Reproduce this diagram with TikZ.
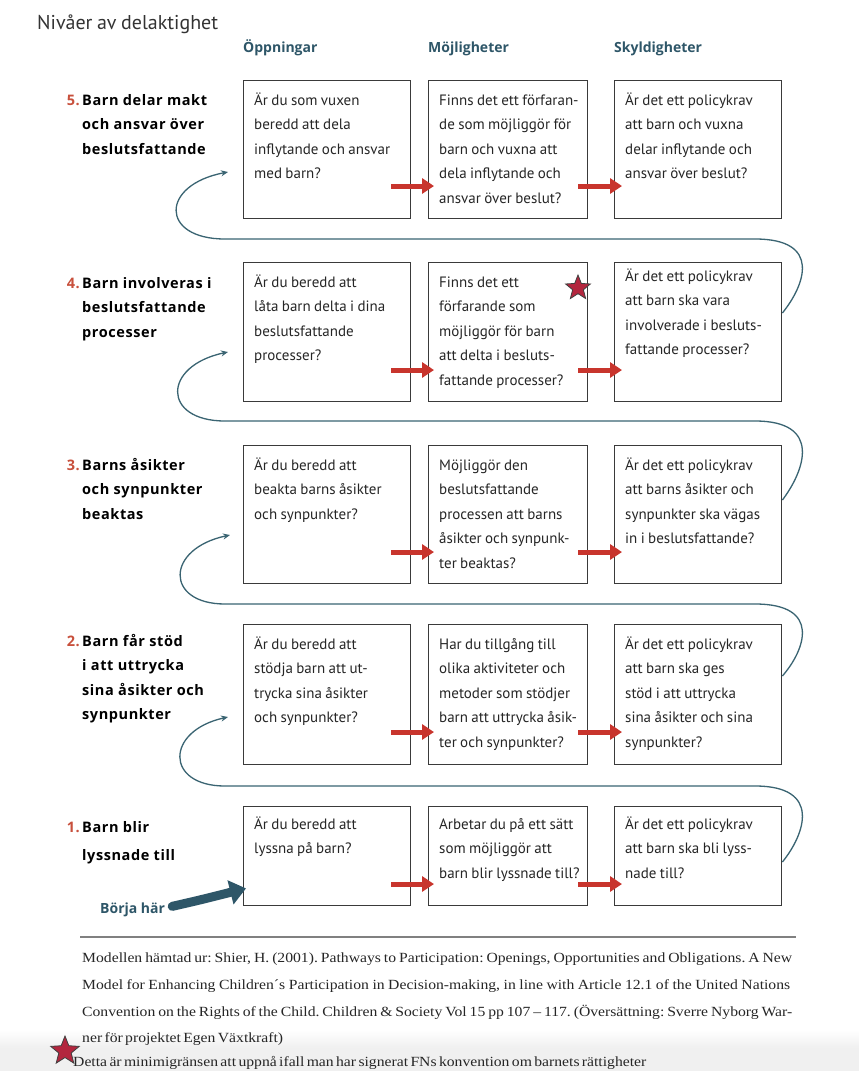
\documentclass[tikz,border=0pt]{standalone}
\usepackage{fontspec}
\setmainfont{PT Sans}[WordSpace=0.85]
\newfontfamily\lblfont{Open Sans}[LetterSpace=4]
\newfontfamily\hdrfont{Open Sans}
\newfontfamily\footfont{Liberation Serif}[FakeStretch=1.12, WordSpace=0.6]
\usetikzlibrary{arrows.meta,calc,shapes.geometric}
\definecolor{hdrteal}{HTML}{2E5668}
\definecolor{linkteal}{HTML}{3A6472}
\definecolor{numred}{HTML}{C8503C}
\definecolor{arrred}{HTML}{C8352D}
\definecolor{boxgray}{HTML}{3A3A3A}
\definecolor{starred}{HTML}{B3263E}
\definecolor{titlegray}{HTML}{333333}
\frenchspacing
\begin{document}
\begin{tikzpicture}[x=1pt,y=-1pt,
  box/.style={draw=boxgray, line width=1.4pt, inner sep=0pt, anchor=north west},
  boxtext/.style={anchor=north west, inner sep=0pt, align=left, text=black!85,
    font=\fontsize{15}{24.5}\selectfont},
  lbl/.style={anchor=north west, inner sep=0pt, align=left, text=black,
    font=\lblfont\bfseries\fontsize{14.5}{24.5}\selectfont},
  hdr/.style={anchor=base west, inner sep=0pt, text=hdrteal,
    font=\hdrfont\bfseries\fontsize{14}{16}\selectfont},
  redarr/.style={draw=arrred, line width=5pt, -{Triangle[width=15pt,length=12pt]}},
  link/.style={draw=linkteal, line width=1.3pt, -{Stealth[length=7pt,width=6pt]}},
  starmark/.style={star, star points=5, star point ratio=2.3, fill=starred,
    draw=black!75, line width=0.8pt, inner sep=0pt},
  foot/.style={anchor=base west, inner sep=0pt, text=black!85,
    font=\footfont\fontsize{14}{16}\selectfont}
]
\useasboundingbox (0,0) rectangle (859,1071);
\fill[white] (0,0) rectangle (859,1071);
\shade[top color=white, bottom color=black!6] (0,1030) rectangle (859,1048);
\fill[black!6] (0,1048) rectangle (859,1071);

% title and headers
\node[anchor=base west, inner sep=0pt, text=titlegray, font=\fontsize{20}{22}\selectfont] (title) at (37,29) {Nivåer av delaktighet};
\node[hdr] (h1) at (243,52) {Öppningar};
\node[hdr] (h2) at (428,52) {Möjligheter};
\node[hdr] (h3) at (614,52) {Skyldigheter};

% boxes
\foreach \r/\y/\h in {5/80/138, 4/262/139, 3/445/138, 2/624/140, 1/806/99}{
  \node[box, minimum width=167pt, minimum height=\h pt] (r\r c1) at (243,\y) {};
  \node[box, minimum width=159pt, minimum height=\h pt] (r\r c2) at (428,\y) {};
  \node[box, minimum width=167pt, minimum height=\h pt] (r\r c3) at (614,\y) {};
}

% row labels
\node[lbl] (l5) at (82,88) {\llap{\textcolor{numred}{5.}\,}\strut Barn delar makt\\och ansvar över\\beslutsfattande};
\node[lbl] (l4) at (82,271) {\llap{\textcolor{numred}{4.}\,}\strut Barn involveras i\\beslutsfattande\\processer};
\node[lbl] (l3) at (82,453) {\llap{\textcolor{numred}{3.}\,}\strut Barns åsikter\\och synpunkter\\beaktas};
\node[lbl] (l2) at (82,629) {\llap{\textcolor{numred}{2.}\,}\strut Barn får stöd\\i att uttrycka\\sina åsikter och\\synpunkter};
\node[lbl, font=\lblfont\bfseries\fontsize{14.5}{28}\selectfont] (l1) at (82,813) {\llap{\textcolor{numred}{1.}\,}\strut Barn blir\\lyssnade till};

% box texts
\node[boxtext] (t51) at ($(r5c1.north west)+(11,8)$) {\strut Är du som vuxen\\beredd att dela\\inflytande och ansvar\\med barn?};
\node[boxtext] (t52) at ($(r5c2.north west)+(11,8)$) {\strut Finns det ett förfaran-\\de som möjliggör för\\barn och vuxna att\\dela inflytande och\\ansvar över beslut?};
\node[boxtext] (t53) at ($(r5c3.north west)+(11,8)$) {\strut Är det ett policykrav\\att barn och vuxna\\delar inflytande och\\ansvar över beslut?};

\node[boxtext] (t41) at ($(r4c1.north west)+(11,8)$) {\strut Är du beredd att\\låta barn delta i dina\\beslutsfattande\\processer?};
\node[boxtext] (t42) at ($(r4c2.north west)+(11,8)$) {\strut Finns det ett\\förfarande som\\möjliggör för barn\\att delta i besluts-\\fattande processer?};
\node[boxtext] (t43) at ($(r4c3.north west)+(11,2)$) {\strut Är det ett policykrav\\att barn ska vara\\involverade i besluts-\\fattande processer?};

\node[boxtext] (t31) at ($(r3c1.north west)+(11,8)$) {\strut Är du beredd att\\beakta barns åsikter\\och synpunkter?};
\node[boxtext] (t32) at ($(r3c2.north west)+(11,8)$) {\strut Möjliggör den\\beslutsfattande\\processen att barns\\åsikter och synpunk-\\ter beaktas?};
\node[boxtext] (t33) at ($(r3c3.north west)+(11,8)$) {\strut Är det ett policykrav\\att barns åsikter och\\synpunkter ska vägas\\in i beslutsfattande?};

\node[boxtext] (t21) at ($(r2c1.north west)+(11,8)$) {\strut Är du beredd att\\stödja barn att ut-\\trycka sina åsikter\\och synpunkter?};
\node[boxtext] (t22) at ($(r2c2.north west)+(11,8)$) {\strut Har du tillgång till\\olika aktiviteter och\\metoder som stödjer\\barn att uttrycka åsik-\\ter och synpunkter?};
\node[boxtext] (t23) at ($(r2c3.north west)+(11,8)$) {\strut Är det ett policykrav\\att barn ska ges\\stöd i att uttrycka\\sina åsikter och sina\\synpunkter?};

\node[boxtext] (t11) at ($(r1c1.north west)+(11,6)$) {\strut Är du beredd att\\lyssna på barn?};
\node[boxtext] (t12) at ($(r1c2.north west)+(11,6)$) {\strut Arbetar du på ett sätt\\som möjliggör att\\barn blir lyssnade till?};
\node[boxtext] (t13) at ($(r1c3.north west)+(11,6)$) {\strut Är det ett policykrav\\att barn ska bli lyss-\\nade till?};

% red arrows
\foreach \r/\d in {5/106, 4/108, 3/107, 2/108, 1/78}{
  \draw[redarr] ($(r\r c1.north east)+(-20,\d)$) -- ($(r\r c2.north west)+(6,\d)$);
  \draw[redarr] ($(r\r c2.north east)+(-10,\d)$) -- ($(r\r c3.north west)+(8,\d)$);
}

% teal connectors between levels
\draw[link] ($(r4c3.north east)+(0,51)$) .. controls (805,285) and (822,239) .. (755,239)
  -- (225,239) .. controls (160,239) and (160,185) .. ($(r5c1.north west)+(-15,92)$);
\draw[link] ($(r3c3.north east)+(0,55)$) .. controls (805,470) and (822,421) .. (755,421)
  -- (225,421) .. controls (162,421) and (162,366) .. ($(r4c1.north west)+(-15,90)$);
\draw[link] ($(r2c3.north east)+(0,52)$) .. controls (805,650) and (822,604) .. (755,604)
  -- (225,604) .. controls (165,604) and (165,549) .. ($(r3c1.north west)+(-13,90)$);
\draw[link] ($(r1c3.north east)+(0,56)$) .. controls (805,834) and (822,786) .. (755,786)
  -- (225,786) .. controls (165,786) and (165,731) .. ($(r2c1.north west)+(-15,93)$);

% star on level 4
\node[starmark, minimum size=26pt] (star1) at (578,288) {};

% start arrow
\node[anchor=base west, inner sep=0pt, text=hdrteal, font=\hdrfont\bfseries\fontsize{14}{16}\selectfont] (borja) at (100,913) {Börja här};
\draw[hdrteal, line width=9pt, line cap=round, -{Triangle[width=24pt,length=16pt]}]
  ($(borja.east)+(7,-3)$) .. controls (200,900) .. ($(r1c1.south west)+(3,-18)$);

% footer
\draw[black!50, line width=2pt] (80,937) -- (796,937);
\node[foot] (f1) at (82,962) {\makebox[710pt][s]{Modellen hämtad ur: Shier, H. (2001). Pathways to Participation: Openings, Opportunities and Obligations. A New}};
\node[foot] (f2) at (82,989) {\makebox[708pt][s]{Model for Enhancing Children´s Participation in Decision-making, in line with Article 12.1 of the United Nations}};
\node[foot] (f3) at (82,1016) {\makebox[710pt][s]{Convention on the Rights of the Child. Children \& Society Vol 15 pp 107 – 117. (Översättning: Sverre Nyborg War-}};
\node[foot] (f4) at (82,1042) {ner för projektet Egen Växtkraft)};
\node[starmark, minimum size=30pt] (star2) at (65,1051) {};
\node[foot] (f5) at (73,1066) {Detta är minimigränsen att uppnå ifall man har signerat FNs konvention om barnets rättigheter};
\end{tikzpicture}
\end{document}
